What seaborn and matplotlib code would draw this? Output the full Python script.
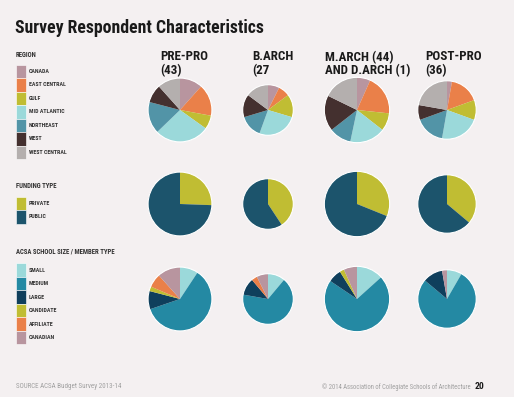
import matplotlib
matplotlib.use("Agg")
import matplotlib.pyplot as plt
from matplotlib.patches import Rectangle, Circle
import seaborn as sns

# --- Data ---
PROGRAMS = ["PRE-PRO\n(43)", "B.ARCH\n(27", "M.ARCH (44)\nAND D.ARCH (1)", "POST-PRO\n(36)"]

REGIONS = ["CANADA", "EAST CENTRAL", "GULF", "MID ATLANTIC", "NORTHEAST", "WEST", "WEST CENTRAL"]
REGION_COUNTS = [
    [5, 7, 3, 12, 7, 4, 5],     # pre-pro
    [2, 2, 4, 7, 4, 4, 4],      # b.arch
    [3, 9, 4, 8, 5, 8, 8],      # m.arch / d.arch
    [1, 6, 4, 8, 6, 3, 8],      # post-pro
]

FUNDING = ["PRIVATE", "PUBLIC"]
FUNDING_COUNTS = [
    [11, 32],
    [11, 16],
    [14, 31],
    [13, 23],
]

SIZES = ["SMALL", "MEDIUM", "LARGE", "CANDIDATE", "AFFILIATE", "CANADIAN"]
SIZE_COUNTS = [
    [4, 26, 4, 1, 3, 5],
    [3, 18, 3, 0, 1, 2],
    [6, 32, 3, 1, 0, 3],
    [3, 28, 4, 0, 0, 1],
]

# --- Colours ---
BG = "#F4F0F1"
REGION_COLORS = ["#B8959F", "#EA8049", "#C0BD33", "#9BD9DA", "#5294A7", "#44302F", "#B4AFAE"]
FUNDING_COLORS = ["#C0BD33", "#1C546C"]
SIZE_COLORS = ["#9BD9DA", "#2489A3", "#0F3F5C", "#C0BD33", "#EA8049", "#B8959F"]

# --- Layout (pixel coords, origin top-left) ---
W, H = 514, 397
COL_X = [180, 268, 357, 447]
HEADER_X = [160, 252, 325, 425]
ROW_Y = [110, 204, 299]
R_SCALE = 4.87  # radius = R_SCALE * sqrt(n)

# condensed face, falls back to DejaVu condensed
COND = ["Roboto Condensed", "DejaVu Sans"]

sns.set_theme(style="white")
plt.rcParams["font.family"] = COND
plt.rcParams["font.stretch"] = "condensed"

fig = plt.figure(figsize=(W / 100, H / 100), dpi=100, facecolor=BG)
ax = fig.add_axes([0, 0, 1, 1])
ax.set_facecolor(BG)


def fy(y):
    return H - y


def draw_pie(values, colors, cx, cy):
    n = sum(values)
    r = R_SCALE * n ** 0.5
    ax.pie(values, colors=colors, startangle=90, counterclock=False,
           center=(cx, fy(cy)), radius=r, frame=True,
           wedgeprops=dict(linewidth=0, antialiased=True))
    ax.add_patch(Circle((cx, fy(cy)), r, fill=False, edgecolor="white",
                        linewidth=0.8, zorder=5))


def draw_legend(title, labels, colors, x, title_y, top_y, step=13.5):
    ax.text(x - 0.5, fy(title_y), title, fontsize=4.9, fontweight="bold",
            color="#333333", va="center", ha="left", family=COND)
    for i, (lab, col) in enumerate(zip(labels, colors)):
        y0 = top_y + i * step
        ax.add_patch(Rectangle((x, fy(y0 + step)), 9.5, step, facecolor=col,
                               edgecolor="white", linewidth=0.4))
        ax.text(x + 13, fy(y0 + step / 2), lab, fontsize=4.2, fontweight="bold",
                color="#333333", va="center", ha="left", family=COND)


# pies
for j in range(len(PROGRAMS)):
    draw_pie(REGION_COUNTS[j], REGION_COLORS, COL_X[j], ROW_Y[0])
    draw_pie(FUNDING_COUNTS[j], FUNDING_COLORS, COL_X[j], ROW_Y[1])
    draw_pie(SIZE_COUNTS[j], SIZE_COLORS, COL_X[j], ROW_Y[2])
    ax.text(HEADER_X[j], fy(50.5), PROGRAMS[j], fontsize=9.4, fontweight="bold",
            color="#1a1a1a", va="top", ha="left", linespacing=1.0, family=COND)

# legends
draw_legend("REGION", REGIONS, REGION_COLORS, 16, 55, 64.7)
draw_legend("FUNDING TYPE", FUNDING, FUNDING_COLORS, 16, 186, 196.7)
draw_legend("ACSA SCHOOL SIZE / MEMBER TYPE", SIZES, SIZE_COLORS, 16, 252, 263.3)

# title and footer
ax.text(15, fy(33), "Survey Respondent Characteristics", fontsize=12.8,
        fontweight="bold", color="#1a1a1a", va="baseline", ha="left", family=COND)
ax.text(16, fy(387), "SOURCE ACSA Budget Survey 2013-14", fontsize=5,
        color="#a0a0a0", va="center", ha="left", family=COND)
ax.text(471, fy(387), "\u00a9 2014 Association of Collegiate Schools of Architecture",
        fontsize=4.8, color="#a0a0a0", va="center", ha="right", family=COND)
ax.text(475, fy(386.5), "20", fontsize=6.8, fontweight="bold", color="#1a1a1a",
        va="center", ha="left", family=COND)

ax.set_xlim(0, W)
ax.set_ylim(0, H)
ax.set_aspect("equal")
ax.axis("off")

fig.savefig("out.png", dpi=100, facecolor=BG)
